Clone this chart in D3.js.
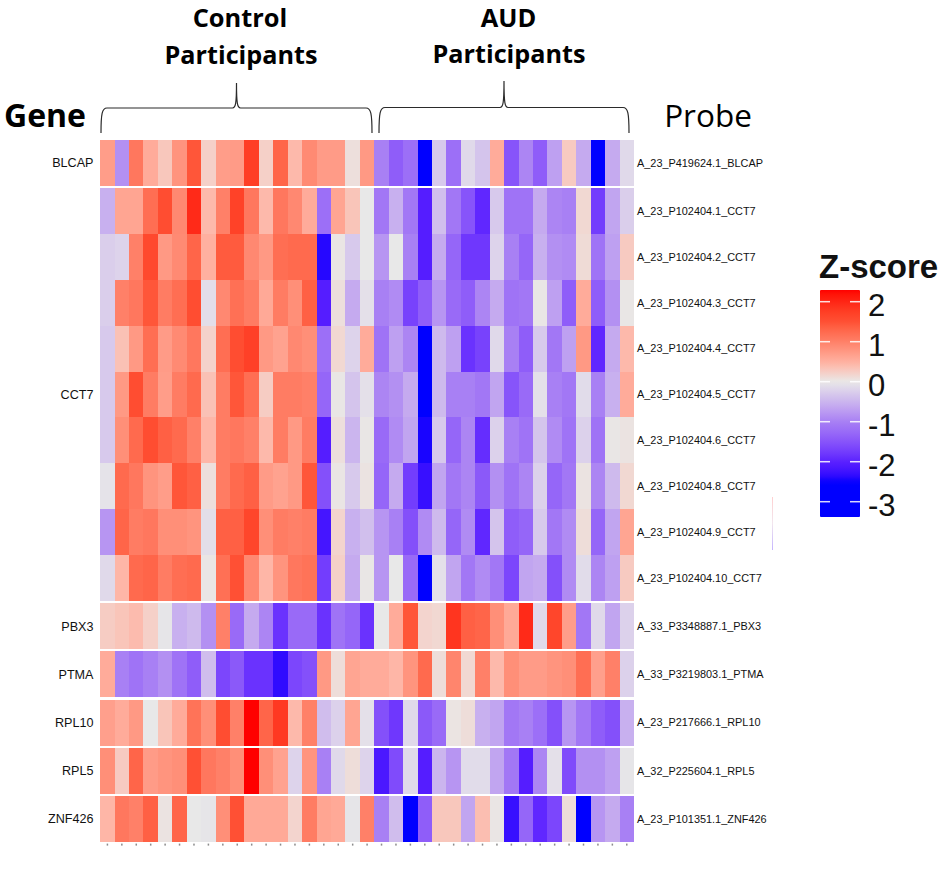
<!DOCTYPE html>
<html>
<head>
<meta charset="utf-8">
<script src="https://cdn.jsdelivr.net/npm/d3@7"></script>
<style>
  html, body { margin: 0; padding: 0; background: #fff; }
  svg { display: block; }
</style>
</head>
<body>
<svg id="chart" width="945" height="885"></svg>
<script>
const genes = ["BLCAP", "CCT7", "PBX3", "PTMA", "RPL10", "RPL5", "ZNF426"];
const geneSizes = [1, 9, 1, 1, 1, 1, 1];
const probes = [
  "A_23_P419624.1_BLCAP",
  "A_23_P102404.1_CCT7",
  "A_23_P102404.2_CCT7",
  "A_23_P102404.3_CCT7",
  "A_23_P102404.4_CCT7",
  "A_23_P102404.5_CCT7",
  "A_23_P102404.6_CCT7",
  "A_23_P102404.8_CCT7",
  "A_23_P102404.9_CCT7",
  "A_23_P102404.10_CCT7",
  "A_33_P3348887.1_PBX3",
  "A_33_P3219803.1_PTMA",
  "A_23_P217666.1_RPL10",
  "A_32_P225604.1_RPL5",
  "A_23_P101351.1_ZNF426",
];
const legendTicks = [2, 1, 0, -1, -2, -3];
const rampStops = [-2.5, -2, -1, -0.5, 0, 0.5, 1, 1.5, 2, 2.3];
const rampColors = ["#0000ff", "#5a20ff", "#a880f4", "#cbb5ee", "#e8e8e8", "#ffb0a0", "#ff8068", "#ff5034", "#ff2414", "#ff0000"];

// z-scores per probe: 19 control columns then 18 AUD columns
const zBLCAP = [.7,-.85,1.1,.55,.3,.8,1.45,.22,.7,.72,1.75,.22,1.3,.42,.9,.72,.72,.08,.75,
  -1,-1.4,-1.2,-2.6,-.3,-1.2,-.15,-.35,.55,-1.5,-.95,-1.4,-.7,.27,-.6,-2.7,-.6,-.15];
const zCCT71 = [-.55,.62,.62,1.2,1.55,.92,1.95,.42,1,1.7,1.1,.42,1.1,.92,.55,-1.2,.62,.32,0,
  -1.1,-.55,-1.1,-2.05,-.4,-1.1,-1.5,-1.95,-.3,-1.15,-1.15,-.6,-.95,-1,.15,-1.75,-.65,-.25];
const zCCT72 = [-.25,-.2,1,1.6,.75,.9,1.3,.5,1.4,1.4,.92,.75,1.2,1.25,1.25,-2.4,.03,-.3,0,
  -.8,0,-1,-2.05,-.6,-1.3,-1.8,-1.8,-.2,-1,-1.3,-.55,-.85,-.9,.12,-1.15,-.7,.27];
const zCCT73 = [-.25,1,1.1,1.45,1.05,1.2,1.55,-.1,.92,1.18,1.05,.58,1.05,.85,1.35,-2.05,.08,-.6,-.08,
  -1,-.9,-1.7,-1.4,-.8,-1.25,-1.4,-.95,-.6,-1.15,-1.1,.02,-.7,-1.4,.55,-1.4,-.85,.02];
const zCCT74 = [-.3,.35,.75,1.2,.72,.9,1.1,.2,1.2,1.55,1.72,.75,.65,.92,.85,-1.2,.15,-.2,.55,
  -1.15,-.7,-.95,-2.6,-.45,-.7,-1.85,-1.7,-.15,-1,-1.4,-.3,-1.1,-.7,.75,-1.95,-.6,.42];
const zCCT75 = [-.3,.75,1.55,1.05,.7,1.05,1.25,.35,1.05,1.45,1.2,.25,1.05,1.05,1,-1.3,.02,-.35,-.08,
  -.95,-.85,-.6,-2.65,-.45,-1,-1,-1.1,-.65,-1.5,-1.25,-.08,-1,-1.1,-.12,-1,-.55,.55];
const zCCT76 = [-.3,.85,1.25,1.55,1.35,1.25,1,.45,1.05,1.1,1,.42,1.05,.75,1.05,-2.05,.08,-.5,.02,
  -1.25,-.9,-.65,-2.45,-.3,-1.3,-.95,-1.9,-.22,-1,-1.15,-.35,-.9,-1.15,-.22,-1.15,.02,.05];
const zCCT78 = [-.05,1.25,1.1,.8,.7,1.45,1.35,.08,1.05,1.25,1.35,.72,.65,.75,1.45,-1.55,.03,-.3,.05,
  -1.3,-.6,-1.75,-2.3,-.65,-1.1,-.95,-1.45,-.85,-1.15,-.95,-.22,-1.3,-1.1,.05,-.95,-.45,.15];
const zCCT79 = [-.8,1.3,1.05,1.1,.85,.85,.8,-.1,1.35,1.35,1.65,.85,1.05,1,1.05,-2.2,.18,-.55,-.4,
  -.8,-1,-1.55,-.9,-.45,-1.3,-.9,-1.95,-.35,-1.4,-1.3,-.3,-1.1,-.9,.1,-1.3,-.65,.62];
const zCCT710 = [-.15,.45,1.25,1.3,1.05,1.2,1.25,.03,1.18,1.5,.92,.45,.8,1.1,1.15,-1.75,.22,-.6,.02,
  -.8,0,-1.25,-2.5,-.08,-.65,-1.1,-.9,-1.1,-1.65,-.65,-.6,-1.55,-.9,-.12,-.95,-.7,.27];
const zPBX3 = [.25,.32,.4,.22,-.03,-.55,-.45,-.85,1,-1.25,-.6,-.95,-1.85,-1.25,-1.25,-1.85,-1.15,-1.3,-1.85,
  0,.55,1.45,.18,.15,1.85,1.35,1.3,.85,.58,1.95,-.15,1.65,.7,-1.1,-.15,-.65,-.22];
const zPTMA = [.55,-1,-1.15,-1,-.85,-1.15,-1.4,-.42,-1.65,-1.45,-1.85,-1.85,-2.35,-1.65,-1.55,.75,.1,.62,.55,
  .55,.45,.8,1.25,.1,.95,.15,1,.42,.85,.72,.72,.8,.85,1.2,.68,1,-.22];
const zRPL10 = [.68,.55,.75,0,.32,.55,1.15,.85,1.55,1,2.3,1.3,1.8,.42,1,-.42,-.22,.62,-.08,
  -1.55,-1.8,-.15,-1.45,-1.25,.04,.1,-.55,-.65,-1.1,-1,-1.2,-1.55,-.8,-1.1,-1.4,-1.55,-.55];
const zRPL5 = [.85,.27,1.3,.72,.8,.85,1.5,1.1,1,.85,2.3,.85,.65,-.2,.8,-1,-.15,.1,-.2,
  -2.15,-1.6,-.15,-2.05,-.5,-.8,-.12,-.12,-.65,-1.1,-2.05,-.95,-.08,-1.6,-.85,-.85,-.7,-.03];
const zZNF426 = [.45,1.1,1,1.35,.05,1.3,0,-.03,.85,1.5,.58,.58,.58,.18,1.05,.62,.58,-.03,1,
  -1,-.42,-2.5,-1.4,.3,.3,-.65,.38,.03,-2.3,-1.3,-1.95,-1.65,.1,-2.7,-.8,-.6,-1];
const matrix = [zBLCAP, zCCT71, zCCT72, zCCT73, zCCT74, zCCT75, zCCT76, zCCT78, zCCT79, zCCT710,
  zPBX3, zPTMA, zRPL10, zRPL5, zZNF426];

const heatLeft = 100.2, heatRight = 634, heatTop = 140, heatBottom = 842, groupGap = 2.4;
const sansBody = "'Liberation Sans', Arial, sans-serif";
const sansHead = "'Open Sans', sans-serif";

const svg = d3.select("#chart");

// the picture's ramp, blue through grey to red
const color = d3
  .scaleLinear()
  .domain(rampStops)
  .range(rampColors)
  .interpolate(d3.interpolateLab)
  .clamp(true);

const x = d3
  .scaleLinear()
  .domain([0, matrix[0].length])
  .range([heatLeft, heatRight]);

const y = d3
  .scaleLinear()
  .domain([0, matrix.length])
  .range([heatTop, heatBottom - groupGap * (genes.length - 1)]);

// which gene block each row sits in
const rowGroup = geneSizes.flatMap((n, g) => d3.range(n).map(() => g));
const rowY = (i) => y(i) + rowGroup[i] * groupGap;

// cells
svg
  .append("g")
  .attr("shape-rendering", "crispEdges")
  .selectAll("g")
  .data(matrix)
  .join("g")
  .attr("transform", (d, i) => `translate(0, ${rowY(i)})`)
  .selectAll("rect")
  .data((d) => d)
  .join("rect")
  .attr("x", (d, j) => x(j))
  .attr("width", x(1) - x(0))
  .attr("height", y(1) - y(0))
  .attr("fill", (d) => color(d));

// bottom column ticks
svg
  .append("g")
  .selectAll("rect")
  .data(matrix[0])
  .join("rect")
  .attr("x", (d, j) => x(j + 0.5) - 0.75)
  .attr("y", heatBottom + 1.6)
  .attr("width", 1.5)
  .attr("height", 2)
  .attr("fill", "#8c8c8c");

// gene labels
let rowStart = 0;
const geneRows = genes.map((g, i) => {
  const mid = (rowY(rowStart) + rowY(rowStart + geneSizes[i] - 1) + y(1) - y(0)) / 2;
  rowStart += geneSizes[i];
  return { gene: g, mid };
});

svg
  .append("g")
  .selectAll("text")
  .data(geneRows)
  .join("text")
  .attr("x", 93.5)
  .attr("y", (d) => d.mid)
  .attr("dy", "0.35em")
  .attr("text-anchor", "end")
  .style("font-family", sansBody)
  .style("font-size", "12.6px")
  .attr("fill", "#111")
  .text((d) => d.gene);

// probe labels
svg
  .append("g")
  .selectAll("text")
  .data(probes)
  .join("text")
  .attr("x", 637)
  .attr("y", (d, i) => rowY(i) + (y(1) - y(0)) / 2)
  .attr("dy", "0.35em")
  .style("font-family", sansBody)
  .style("font-size", "10.9px")
  .attr("fill", "#111")
  .text((d) => d);

// headers
const headers = [
  { text: "Control", x: 240, y: 18, size: 25.4, weight: 700 },
  { text: "Participants", x: 241, y: 55, size: 25.2, weight: 700 },
  { text: "AUD", x: 508.5, y: 18, size: 25.4, weight: 700 },
  { text: "Participants", x: 509, y: 54, size: 25.2, weight: 700 },
  { text: "Gene", x: 45, y: 116, size: 32, weight: 700 },
  { text: "Probe", x: 708, y: 116, size: 31.5, weight: 400 },
];

svg
  .append("g")
  .selectAll("text")
  .data(headers)
  .join("text")
  .attr("x", (d) => d.x)
  .attr("y", (d) => d.y)
  .attr("dy", "0.35em")
  .attr("text-anchor", "middle")
  .style("font-family", sansHead)
  .style("font-size", (d) => d.size + "px")
  .style("font-weight", (d) => d.weight)
  .attr("fill", "#000")
  .text((d) => d.text);

// group braces
const brace = (x0, x1, xm, base, top, tip) =>
  `M${x0},${base} C${x0},${top + 6} ${x0 + 1},${top} ${x0 + 6},${top} L${xm - 4},${top} ` +
  `C${xm - 1},${top} ${xm},${top - 4} ${xm},${tip} C${xm},${top - 4} ${xm + 1},${top} ${xm + 4},${top} ` +
  `L${x1 - 6},${top} C${x1 - 1},${top} ${x1},${top + 6} ${x1},${base}`;

svg
  .append("g")
  .selectAll("path")
  .data([brace(101, 372, 236.5, 133, 108, 83), brace(379, 629, 504, 133, 107.5, 81)])
  .join("path")
  .attr("d", (d) => d)
  .attr("fill", "none")
  .attr("stroke", "#2b2b2b")
  .attr("stroke-width", 1.2);

// legend
const legendY = d3.scaleLinear().domain([2, -3]).range([301.7, 501.7]);
const legendX = 820, legendW = 40;
const legendTop = 290, legendBottom = 517;

const defs = svg.append("defs");
const grad = defs
  .append("linearGradient")
  .attr("id", "z-grad")
  .attr("x1", 0)
  .attr("x2", 0)
  .attr("y1", 0)
  .attr("y2", 1);
d3.range(0, 1.001, 0.02).forEach((t) => {
  const v = legendY.invert(legendTop + t * (legendBottom - legendTop));
  grad.append("stop").attr("offset", t).attr("stop-color", color(v));
});

svg
  .append("rect")
  .attr("x", legendX)
  .attr("y", legendTop)
  .attr("width", legendW)
  .attr("height", legendBottom - legendTop)
  .attr("rx", 1)
  .attr("fill", "url(#z-grad)");

const legendG = svg.append("g").selectAll("g").data(legendTicks).join("g");

[[legendX, legendX + 10], [legendX + legendW - 10, legendX + legendW]].forEach(([a, b]) => {
  legendG
    .append("line")
    .attr("x1", a)
    .attr("x2", b)
    .attr("y1", (d) => legendY(d))
    .attr("y2", (d) => legendY(d))
    .attr("stroke", "#fff")
    .attr("stroke-opacity", 0.85)
    .attr("stroke-width", 1.5);
});

legendG
  .append("text")
  .attr("x", 868)
  .attr("y", (d) => legendY(d) + 3)
  .attr("dy", "0.35em")
  .style("font-family", sansBody)
  .style("font-size", "31px")
  .attr("fill", "#111")
  .text((d) => d);

svg
  .append("text")
  .attr("x", 819)
  .attr("y", 266)
  .attr("dy", "0.35em")
  .style("font-family", sansBody)
  .style("font-size", "33px")
  .style("font-weight", 700)
  .attr("fill", "#111")
  .text("Z-score");

// stray sliver next to the legend
const sliver = defs
  .append("linearGradient")
  .attr("id", "sliver-grad")
  .attr("x1", 0)
  .attr("x2", 0)
  .attr("y1", 0)
  .attr("y2", 1);
sliver.append("stop").attr("offset", 0).attr("stop-color", "#ffd0d0");
sliver.append("stop").attr("offset", 0.5).attr("stop-color", "#f2e6ee");
sliver.append("stop").attr("offset", 1).attr("stop-color", "#c4b4ff");

svg
  .append("rect")
  .attr("x", 772)
  .attr("y", 497)
  .attr("width", 1)
  .attr("height", 53)
  .attr("fill", "url(#sliver-grad)");
</script>
</body>
</html>
